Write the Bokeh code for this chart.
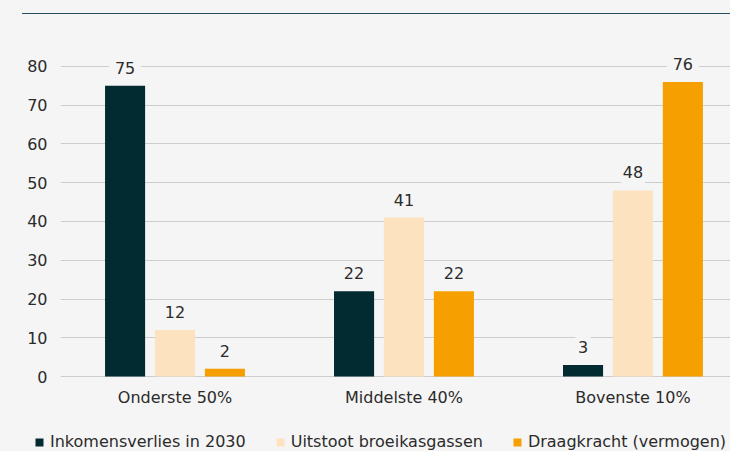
from bokeh.plotting import figure
from bokeh.models import (ColumnDataSource, Range1d, FixedTicker, LabelSet,
                          Legend, LegendItem, Div)
from bokeh.core.properties import value
from bokeh.layouts import column, row
from bokeh.embed import file_html
from bokeh.resources import INLINE
from bokeh.transform import dodge

categories = ["Onderste 50%", "Middelste 40%", "Bovenste 10%"]
series = ["Inkomensverlies in 2030", "Uitstoot broeikasgassen", "Draagkracht (vermogen)"]
inkomensverlies = [75, 22, 3]
uitstoot = [12, 41, 48]
draagkracht = [2, 22, 76]
y_ticks = [0, 10, 20, 30, 40, 50, 60, 70, 80]

colors = ["#022a31", "#fce2bf", "#f5a000"]
BG = "#f5f5f5"
FONT = "DejaVu Sans"
TXT = "#2b2b2b"

xs = [i + 0.5 for i in range(len(categories))]
src = ColumnDataSource(dict(
    x=xs, cat=categories,
    s0=inkomensverlies, s1=uitstoot, s2=draagkracht,
    l0=[str(v) for v in inkomensverlies],
    l1=[str(v) for v in uitstoot],
    l2=[str(v) for v in draagkracht],
))

p = figure(width=730, height=406, output_backend="svg", toolbar_location=None,
           x_range=Range1d(0, 2.926), y_range=Range1d(-0.516, 89.29),
           min_border_left=60, min_border_right=0, min_border_top=16,
           min_border_bottom=42)
p.background_fill_color = BG
p.border_fill_color = BG
p.outline_line_color = None

offsets = [-0.218, 0.0, 0.218]
for i, off in enumerate(offsets):
    p.vbar(x=dodge("x", off, range=p.x_range), top="s%d" % i, width=0.175,
           source=src, fill_color=colors[i], line_color=None)
    lbl = LabelSet(x=dodge("x", off, range=p.x_range), y="s%d" % i, text="l%d" % i,
                   source=src, text_align="center", text_baseline="alphabetic",
                   y_offset=12, text_font=value(FONT), text_font_size=value("16px"),
                   text_color=TXT, background_fill_color=BG,
                   border_line_color=BG, border_line_width=12)
    p.add_layout(lbl)

p.xgrid.grid_line_color = None
p.ygrid.grid_line_color = "#cdcdcd"
p.ygrid.grid_line_width = 1
p.yaxis.ticker = FixedTicker(ticks=y_ticks)
p.xaxis.ticker = FixedTicker(ticks=xs)
p.xaxis.major_label_overrides = {x: c for x, c in zip(xs, categories)}
for ax in (p.xaxis, p.yaxis):
    ax.axis_line_color = None
    ax.major_tick_line_color = None
    ax.minor_tick_line_color = None
    ax.major_tick_out = 0
    ax.major_tick_in = 0
    ax.major_label_text_font = FONT
    ax.major_label_text_font_size = "16px"
    ax.major_label_text_color = TXT
p.yaxis.major_label_standoff = 13
p.xaxis.major_label_standoff = 9

# legend strip below the chart (its bars lie entirely outside its visible ranges)
lf = figure(width=730, height=31, output_backend="svg", toolbar_location=None,
            x_range=Range1d(1000, 1001), y_range=Range1d(1000, 1001),
            x_axis_type=None, y_axis_type=None,
            min_border_left=0, min_border_right=0, min_border_top=0, min_border_bottom=0)
lf.background_fill_color = BG
lf.border_fill_color = BG
lf.outline_line_color = None
lf.grid.visible = False
leg_renderers = [lf.vbar(x="x", top="s%d" % i, width=0.175, source=src,
                         fill_color=c, line_color=None)
                 for i, c in enumerate(colors)]
legend = Legend(items=[LegendItem(label=s, renderers=[r]) for s, r in zip(series, leg_renderers)],
                orientation="horizontal", location=(34, 0), padding=0, margin=0,
                spacing=29, label_standoff=6, glyph_width=10, glyph_height=10,
                label_height=18,
                label_text_font=FONT, label_text_font_size="16px", label_text_color=TXT,
                border_line_color=None, background_fill_alpha=0)
lf.add_layout(legend)

div = Div(text="", width=708, height=14, margin=(0, 0, 0, 22),
          styles={"border-bottom": "1.5px solid #24505d", "box-sizing": "border-box"})

layout = column(div, p, row(lf), spacing=0, styles={"background": BG})
html = file_html(layout, INLINE)
html = html.replace("</head>",
                    "<style>html, body { background: %s !important; }</style></head>" % BG, 1)
open("out.html", "w").write(html)
